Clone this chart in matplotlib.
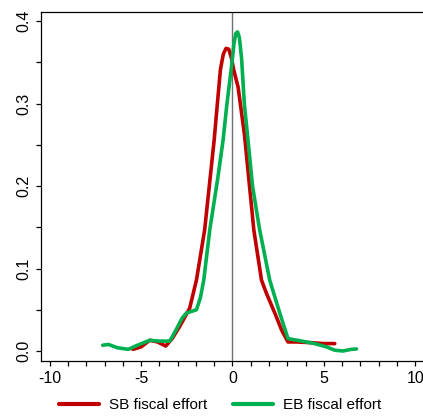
import numpy as np
import matplotlib
matplotlib.use('Agg')
import matplotlib.pyplot as plt
from matplotlib.ticker import MultipleLocator

plt.rcParams['font.family'] = ['Liberation Sans', 'DejaVu Sans']

# kernel density of fiscal effort
sb_x = [-5.45, -5.0, -4.53, -4.1, -3.65, -3.3, -2.88, -2.34, -1.97, -1.52,
        -1.0, -0.66, -0.5, -0.35, -0.2, -0.05, 0.07, 0.31, 0.66, 1.17, 1.59,
        1.86, 2.32, 2.7, 3.04, 3.5, 4.4, 5.0, 5.6]
sb_y = [0.002, 0.005, 0.013, 0.011, 0.006, 0.015, 0.030, 0.052, 0.086, 0.147,
        0.256, 0.341, 0.360, 0.367, 0.366, 0.355, 0.341, 0.320, 0.262, 0.147,
        0.086, 0.070, 0.046, 0.025, 0.011, 0.011, 0.010, 0.009, 0.009]

eb_x = [-7.1, -6.8, -6.3, -5.7, -5.2, -4.53, -4.0, -3.43, -3.1, -2.75,
        -2.52, -1.97, -1.75, -1.57, -1.24, -0.8, -0.51, -0.3, -0.05, 0.08,
        0.18, 0.28, 0.38, 0.5, 0.65, 0.85, 1.1, 1.49, 2.04, 2.59, 3.04,
        3.68, 4.5, 5.14, 5.6, 6.05, 6.5, 6.79]
eb_y = [0.007, 0.008, 0.004, 0.002, 0.007, 0.013, 0.012, 0.012, 0.025, 0.040,
        0.046, 0.050, 0.065, 0.086, 0.147, 0.210, 0.256, 0.300, 0.345, 0.372,
        0.385, 0.387, 0.380, 0.355, 0.300, 0.256, 0.200, 0.147, 0.086, 0.046,
        0.015, 0.0125, 0.009, 0.005, 0.001, 0.000, 0.002, 0.0025]

labels = ['SB fiscal effort', 'EB fiscal effort']
colors = ['#C00000', '#00B050']

fig = plt.figure(figsize=(4.23, 4.18), dpi=100)
ax = fig.add_axes([0.096, 0.137, 0.907, 0.834])

ax.plot(sb_x, sb_y, color=colors[0], lw=2.6, label=labels[0],
        solid_joinstyle='round', solid_capstyle='round')
ax.plot(eb_x, eb_y, color=colors[1], lw=2.6, label=labels[1],
        solid_joinstyle='round', solid_capstyle='round')
ax.axvline(0, color='#707070', lw=1.0, zorder=0)

ax.set_xlim(-10.5, 10.5)
ax.set_ylim(-0.0118, 0.411)
ax.xaxis.set_major_locator(MultipleLocator(5))
ax.xaxis.set_minor_locator(MultipleLocator(1))
ax.yaxis.set_major_locator(MultipleLocator(0.1))
ax.yaxis.set_minor_locator(MultipleLocator(0.05))
ax.tick_params(which='both', direction='out', length=3.5, width=0.9)
ax.tick_params(axis='x', pad=4, labelsize=11.5)
ax.tick_params(axis='y', pad=3, labelsize=11.5)
ax.xaxis.set_major_formatter(plt.FuncFormatter(lambda v, p: f'{v:.0f}'))
ax.yaxis.set_major_formatter(plt.FuncFormatter(lambda v, p: f'{v:.1f}'))
for t in ax.get_yticklabels():
    t.set_rotation(90)
    t.set_va('center')
for s in ax.spines.values():
    s.set_linewidth(0.9)

leg = fig.legend(loc='center', bbox_to_anchor=(0.52, 0.03), ncol=2, frameon=False,
                 fontsize=11, handlelength=2.6, columnspacing=1.7, handletextpad=0.65)
for h in leg.get_lines():
    h.set_linewidth(3.0)

fig.savefig('out.png', dpi=100)
